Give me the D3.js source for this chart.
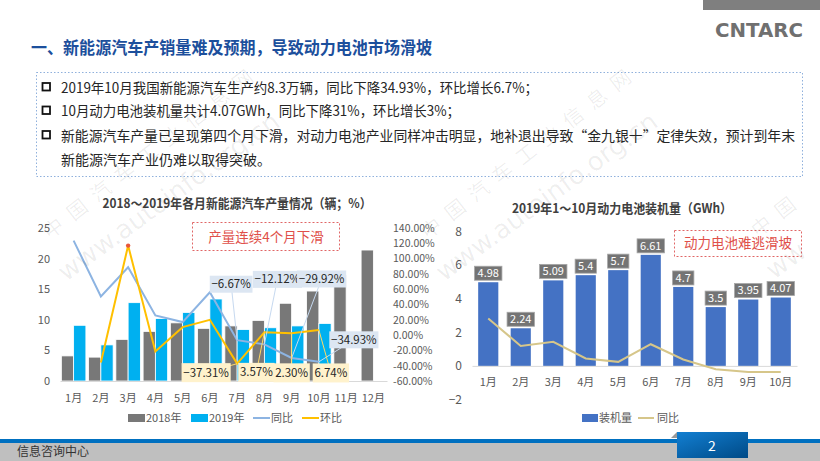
<!DOCTYPE html>
<html>
<head>
<meta charset="utf-8">
<script src="https://cdn.jsdelivr.net/npm/d3@7/dist/d3.min.js"></script>
<style>
  body { margin: 0; background: #fff; }
  svg { display: block; font-family: "Noto Sans CJK SC", "Noto Sans", sans-serif; }
</style>
</head>
<body>
<svg id="slide" width="820" height="461"></svg>
<script>
// ---- data ----
const months = ['1月', '2月', '3月', '4月', '5月', '6月', '7月', '8月', '9月', '10月', '11月', '12月'];
const prod2018 = [4.1, 3.9, 6.8, 8.1, 9.5, 8.6, 9.0, 9.9, 12.7, 14.7, 17.3, 21.4];
const prod2019 = [9.1, 5.9, 12.8, 10.2, 11.2, 13.4, 8.4, 8.7, 9.0, 9.4];
const prodYoY = [123.5, 50.4, 88.7, 25.7, 17.0, 56.0, -6.67, -12.12, -29.92, -34.93];
const prodMoM = [null, -35.7, 117.0, -21.3, 10.4, 20.0, -37.31, 3.57, 2.30, 6.74];
const prodTicks = [0, 5, 10, 15, 20, 25];
const pctTicks = [-60, -40, -20, 0, 20, 40, 60, 80, 100, 120, 140];

const batMonths = ['1月', '2月', '3月', '4月', '5月', '6月', '7月', '8月', '9月', '10月'];
const batInstalled = [4.98, 2.24, 5.09, 5.4, 5.7, 6.61, 4.7, 3.5, 3.95, 4.07];
const batYoY = [2.82, 1.19, 1.43, 0.44, 0.24, 1.29, 0.38, -0.2, -0.36, -0.36];
const batTicks = [-2, 0, 2, 4, 6, 8];

const bullets = [
  '2019年10月我国新能源汽车生产约8.3万辆，同比下降34.93%，环比增长6.7%；',
  '10月动力电池装机量共计4.07GWh，同比下降31%，环比增长3%；',
  '新能源汽车产量已呈现第四个月下滑，对动力电池产业同样冲击明显，地补退出导致“金九银十”定律失效，预计到年末',
  '新能源汽车产业仍难以取得突破。'
];

const svg = d3.select('#slide');

// ---- header ----
svg.append('rect').attr('x', 703).attr('y', 0).attr('width', 117).attr('height', 10).attr('fill', '#7f7f7f');
svg.append('text')
    .attr('x', 715).attr('y', 37)
    .attr('font-family', 'DejaVu Sans')
    .attr('font-size', 20).attr('font-weight', 'bold')
    .attr('fill', '#707070')
    .attr('textLength', 88).attr('lengthAdjust', 'spacingAndGlyphs')
    .text('CNTARC');

svg.append('text')
    .attr('x', 31).attr('y', 54)
    .attr('font-size', 17).attr('font-weight', 'bold')
    .attr('fill', '#1c4f9c')
    .attr('textLength', 401).attr('lengthAdjust', 'spacingAndGlyphs')
    .text('一、新能源汽车产销量难及预期，导致动力电池市场滑坡');

// bullet box
svg.append('rect')
    .attr('x', 36.5).attr('y', 72.5).attr('width', 766).attr('height', 104)
    .attr('fill', 'none').attr('stroke', '#8fb0dc').attr('stroke-width', 1)
    .attr('stroke-dasharray', '1.5 2');

const lineY = [92.5, 116, 140.5, 164.5];
const lineLen = [477, 399, 734, 210];
bullets.forEach(function(t, i) {
  if (i < 3) {
    svg.append('rect')
        .attr('x', 42.5).attr('y', lineY[i] - 9.5).attr('width', 7.5).attr('height', 7.5)
        .attr('fill', 'none').attr('stroke', '#111').attr('stroke-width', 1.8);
  }
  svg.append('text')
      .attr('x', 61).attr('y', lineY[i])
      .attr('font-size', 14).attr('fill', '#262626')
      .attr('textLength', lineLen[i]).attr('lengthAdjust', 'spacingAndGlyphs')
      .text(t);
});

// helper: text with a filled box behind it
function boxedLabel(parent, cx, cy, txt, opt) {
  let g = parent.append('g');
  let t = g.append('text')
      .attr('x', cx).attr('y', cy)
      .attr('dy', '0.35em')
      .attr('text-anchor', 'middle')
      .attr('font-size', opt.size)
      .attr('fill', opt.color)
      .text(txt);
  let bb = t.node().getBBox();
  g.insert('rect', 'text')
      .attr('x', cx - bb.width / 2 - opt.padX)
      .attr('y', cy - opt.h / 2)
      .attr('width', bb.width + 2 * opt.padX)
      .attr('height', opt.h)
      .attr('fill', opt.fill)
      .attr('stroke', opt.stroke || 'none')
      .attr('stroke-width', 0.8);
  return g;
}

function styleAxis(g, color) {
  g.attr('font-family', null).attr('font-size', 11);
  g.selectAll('text').attr('fill', color);
}

// ---- left chart: vehicle production ----
const left = svg.append('g').attr('class', 'prodChart');

left.append('text')
    .attr('x', 237).attr('y', 208)
    .attr('text-anchor', 'middle')
    .attr('font-size', 13).attr('font-weight', 'bold').attr('fill', '#404040')
    .attr('textLength', 269).attr('lengthAdjust', 'spacingAndGlyphs')
    .text('2018～2019年各月新能源汽车产量情况（辆；%）');

const x0 = d3.scaleBand().domain(months).range([60, 387]).paddingInner(0.1).paddingOuter(0.05);
const x1 = d3.scaleBand().domain(['2018', '2019']).range([0, x0.bandwidth()]);
const yL = d3.scaleLinear().domain([0, 25]).range([381, 228]);
const yP = d3.scaleLinear().domain([-60, 140]).range([381, 228]);
const cx0 = m => x0(m) + x0.bandwidth() / 2;

left.append('g')
    .attr('transform', 'translate(50,0)')
    .call(d3.axisLeft(yL).tickValues(prodTicks).tickSize(0).tickPadding(0))
    .call(g => g.select('.domain').remove())
    .call(g => styleAxis(g, '#595959'));

left.append('g')
    .attr('transform', 'translate(393,0)')
    .call(d3.axisRight(yP).tickValues(pctTicks).tickSize(0).tickPadding(0)
              .tickFormat(d => d.toFixed(2) + '%'))
    .call(g => g.select('.domain').remove())
    .call(g => styleAxis(g, '#595959'))
    .call(g => g.selectAll('text').attr('font-size', 10.5));

// bars
left.append('g').selectAll('rect')
    .data(prod2018)
    .enter().append('rect')
    .attr('x', (d, i) => x0(months[i]) + x1('2018'))
    .attr('y', d => yL(d))
    .attr('width', x1.bandwidth())
    .attr('height', d => yL(0) - yL(d))
    .attr('fill', '#787878')
    .attr('stroke', '#fff').attr('stroke-width', 0.8);

left.append('g').selectAll('rect')
    .data(prod2019)
    .enter().append('rect')
    .attr('x', (d, i) => x0(months[i]) + x1('2019'))
    .attr('y', d => yL(d))
    .attr('width', x1.bandwidth())
    .attr('height', d => yL(0) - yL(d))
    .attr('fill', '#00b0f0')
    .attr('stroke', '#fff').attr('stroke-width', 0.8);

left.append('g')
    .attr('transform', 'translate(0,381)')
    .call(d3.axisBottom(x0).tickSize(0).tickSizeOuter(0).tickPadding(13))
    .call(g => g.select('.domain').attr('stroke', '#d9d9d9'))
    .call(g => styleAxis(g, '#595959'));

// lines
let pctLine = d3.line()
    .defined(d => d != null)
    .x((d, i) => cx0(months[i]))
    .y(d => yP(d));

left.append('path')
    .attr('d', pctLine(prodYoY))
    .attr('fill', 'none').attr('stroke', '#8db4e2').attr('stroke-width', 2);
left.append('path')
    .attr('d', pctLine(prodMoM))
    .attr('fill', 'none').attr('stroke', '#ffc000').attr('stroke-width', 2);
left.append('circle')
    .attr('cx', cx0(months[2])).attr('cy', yP(prodMoM[2])).attr('r', 2.2)
    .attr('fill', '#e8573a');

// data labels (Jul - Oct), offsets from the point in pixels
const yoyOffsets = [[-6, -56], [13, -65], [30, -79], [35, -22]];
const momOffsets = [[-31, 9], [-8, 40], [0, 39.5], [12, 43]];
const labelMonths = [6, 7, 8, 9];

labelMonths.forEach(function(mi, k) {
  let px = cx0(months[mi]), py = yP(prodYoY[mi]);
  let lx = px + yoyOffsets[k][0], ly = py + yoyOffsets[k][1];
  left.append('line')
      .attr('x1', px).attr('y1', py).attr('x2', lx).attr('y2', ly)
      .attr('stroke', '#c6d9f0').attr('stroke-width', 1);
  boxedLabel(left, lx, ly, d3.format('.2f')(prodYoY[mi]) + '%',
             {size: 11.5, color: '#262626', fill: '#dce6f2', padX: 1.5, h: 17});
});

labelMonths.forEach(function(mi, k) {
  let px = cx0(months[mi]), py = yP(prodMoM[mi]);
  let lx = px + momOffsets[k][0], ly = py + momOffsets[k][1];
  left.append('line')
      .attr('x1', px).attr('y1', py).attr('x2', lx).attr('y2', ly)
      .attr('stroke', '#ffd966').attr('stroke-width', 1);
  boxedLabel(left, lx, ly, d3.format('.2f')(prodMoM[mi]) + '%',
             {size: 11.5, color: '#262626', fill: '#fff2cc', padX: 1.5, h: 19});
});

// note box
left.append('rect')
    .attr('x', 192.5).attr('y', 222.5).attr('width', 147).attr('height', 28)
    .attr('fill', '#fff').attr('stroke', '#e06666').attr('stroke-width', 1)
    .attr('stroke-dasharray', '2 2');
left.append('text')
    .attr('x', 266).attr('y', 241.5)
    .attr('text-anchor', 'middle')
    .attr('font-size', 13.5).attr('fill', '#e0504a')
    .text('产量连续4个月下滑');

// legend
const leftLegend = [
  {name: '2018年', color: '#787878', type: 'rect', x: 128},
  {name: '2019年', color: '#00b0f0', type: 'rect', x: 191},
  {name: '同比', color: '#8db4e2', type: 'line', x: 253},
  {name: '环比', color: '#ffc000', type: 'line', x: 302}
];
leftLegend.forEach(function(it) {
  if (it.type === 'rect') {
    left.append('rect').attr('x', it.x).attr('y', 414).attr('width', 17).attr('height', 8).attr('fill', it.color);
  } else {
    left.append('line').attr('x1', it.x).attr('x2', it.x + 17).attr('y1', 418).attr('y2', 418)
        .attr('stroke', it.color).attr('stroke-width', 2);
  }
  left.append('text').attr('x', it.x + 18).attr('y', 422)
      .attr('font-size', 11).attr('fill', '#595959').text(it.name);
});

// ---- right chart: battery installation ----
const right = svg.append('g').attr('class', 'batteryChart');

right.append('text')
    .attr('x', 622).attr('y', 213)
    .attr('text-anchor', 'middle')
    .attr('font-size', 13).attr('font-weight', 'bold').attr('fill', '#404040')
    .attr('textLength', 220).attr('lengthAdjust', 'spacingAndGlyphs')
    .text('2019年1～10月动力电池装机量（GWh）');

const xb = d3.scaleBand().domain(batMonths).range([472, 797]).paddingInner(0.38).paddingOuter(0.19);
const yb = d3.scaleLinear().domain([-2, 8]).range([399.5, 231.5]);
const cxb = m => xb(m) + xb.bandwidth() / 2;

right.append('g')
    .attr('transform', 'translate(462,0)')
    .call(d3.axisLeft(yb).tickValues(batTicks).tickSize(0).tickPadding(0))
    .call(g => g.select('.domain').remove())
    .call(g => styleAxis(g, '#595959'))
    .call(g => g.selectAll('text').attr('font-size', 12));

right.append('g').selectAll('rect')
    .data(batInstalled)
    .enter().append('rect')
    .attr('x', (d, i) => xb(batMonths[i]))
    .attr('y', d => yb(d))
    .attr('width', xb.bandwidth())
    .attr('height', d => yb(0) - yb(d))
    .attr('fill', '#4472c4');

right.append('g')
    .attr('transform', 'translate(0,' + yb(0) + ')')
    .call(d3.axisBottom(xb).tickSize(0).tickSizeOuter(0).tickPadding(0))
    .call(g => g.select('.domain').attr('stroke', '#d9d9d9'))
    .call(g => styleAxis(g, '#595959'))
    .call(g => g.selectAll('text').attr('y', 12.5));

right.append('path')
    .attr('d', d3.line().x((d, i) => cxb(batMonths[i])).y(d => yb(d))(batYoY))
    .attr('fill', 'none').attr('stroke', '#d6c68a').attr('stroke-width', 2);

batInstalled.forEach(function(v, i) {
  boxedLabel(right, cxb(batMonths[i]), yb(v) - 9, String(v),
             {size: 11, color: '#fff', fill: '#747474', stroke: '#a6a6a6', padX: 3, h: 14});
});

right.append('rect')
    .attr('x', 674.5).attr('y', 230.5).attr('width', 127).attr('height', 26)
    .attr('fill', '#fff').attr('stroke', '#e06666').attr('stroke-width', 1)
    .attr('stroke-dasharray', '2 2');
right.append('text')
    .attr('x', 738).attr('y', 248)
    .attr('text-anchor', 'middle')
    .attr('font-size', 13.5).attr('fill', '#e0504a')
    .text('动力电池难逃滑坡');

right.append('rect').attr('x', 582).attr('y', 414).attr('width', 16).attr('height', 8).attr('fill', '#4472c4');
right.append('text').attr('x', 599).attr('y', 422).attr('font-size', 11).attr('fill', '#595959').text('装机量');
right.append('line').attr('x1', 638).attr('x2', 654).attr('y1', 418).attr('y2', 418)
    .attr('stroke', '#d6c68a').attr('stroke-width', 2);
right.append('text').attr('x', 657).attr('y', 422).attr('font-size', 11).attr('fill', '#595959').text('同比');

// ---- watermark (faint, diagonal) ----
const wm = svg.append('g').attr('fill', '#000').attr('fill-opacity', 0.07).attr('pointer-events', 'none');
const wmStrands = [
  {x: 50, y: 240, name: '中国汽车工业信息网', url: 'www.autoinfo.org.cn'},
  {x: 428, y: 240, name: '中国汽车工业信息网', url: 'www.autoinfo.org.cn'},
  {x: 758, y: 238, name: '中国', url: 'ww'}
];
wmStrands.forEach(function(s) {
  wm.append('text')
      .attr('transform', 'translate(' + s.x + ',' + s.y + ') rotate(-38)')
      .attr('font-size', 20).attr('letter-spacing', 10)
      .text(s.name);
  wm.append('text')
      .attr('transform', 'translate(' + (s.x + 16) + ',' + (s.y + 42) + ') rotate(-36)')
      .attr('font-family', 'DejaVu Sans')
      .attr('font-size', 26)
      .text(s.url);
});

// ---- footer ----
svg.append('rect').attr('x', 0).attr('y', 443).attr('width', 820).attr('height', 18).attr('fill', '#bfbfbf');
svg.append('rect').attr('x', 0).attr('y', 439).attr('width', 820).attr('height', 4).attr('fill', '#0070c0');
svg.append('text').attr('x', 17).attr('y', 456).attr('font-size', 12).attr('fill', '#333').text('信息咨询中心');

const grad = svg.append('defs').append('linearGradient')
    .attr('id', 'pageGrad').attr('x1', '0').attr('y1', '0').attr('x2', '1').attr('y2', '1');
grad.append('stop').attr('offset', '0%').attr('stop-color', '#127fd2');
grad.append('stop').attr('offset', '100%').attr('stop-color', '#004a86');
svg.append('path').attr('d', 'M671,438 L677,432 L677,438 Z').attr('fill', '#9a9a9a');
svg.append('rect').attr('x', 677).attr('y', 432).attr('width', 71).attr('height', 26).attr('fill', 'url(#pageGrad)');
svg.append('text').attr('x', 712).attr('y', 451).attr('text-anchor', 'middle')
    .attr('font-size', 14).attr('fill', '#fff').text('2');
</script>
</body>
</html>
